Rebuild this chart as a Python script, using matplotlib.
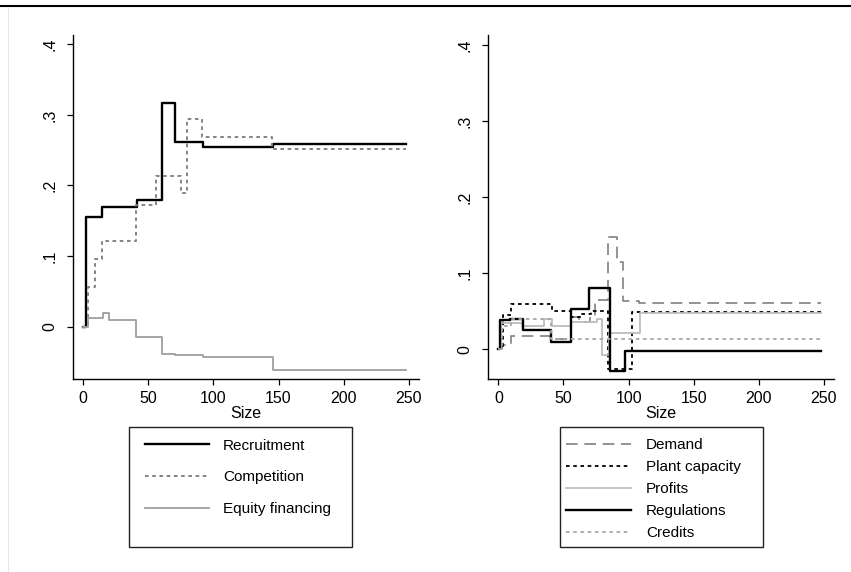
import matplotlib
matplotlib.use("Agg")
import matplotlib.pyplot as plt
from matplotlib.lines import Line2D
from matplotlib.patches import Rectangle

plt.rcParams['font.family'] = ['Liberation Sans', 'DejaVu Sans']

# Left panel: step values
rec_x = [0, 2.5, 14.5, 41, 60.5, 70.5, 92, 146, 248]
rec_y = [0, 0.156, 0.170, 0.180, 0.317, 0.261, 0.255, 0.258, 0.258]

comp_x = [0, 4, 9.5, 14.5, 40.5, 56, 75.5, 80, 91, 145, 248]
comp_y = [0, 0.056, 0.096, 0.121, 0.172, 0.213, 0.190, 0.294, 0.269, 0.251, 0.251]

eq_x = [0, 4, 15, 19.5, 40.5, 60.5, 70.5, 92, 146, 248]
eq_y = [0, 0.012, 0.019, 0.009, -0.015, -0.038, -0.040, -0.043, -0.061, -0.061]

# Right panel
dem_x = [0, 3, 9.5, 40, 56, 62, 70, 74, 84.5, 91, 95.5, 108, 248]
dem_y = [0, 0.006, 0.017, 0.013, 0.042, 0.036, 0.042, 0.065, 0.148, 0.115, 0.064, 0.061, 0.061]

plant_x = [0, 3.5, 9.5, 41.5, 56, 64, 71, 84.5, 102.5, 248]
plant_y = [0, 0.045, 0.059, 0.050, 0.043, 0.047, 0.051, -0.026, 0.049, 0.049]

prof_x = [0, 2, 18, 35, 41, 55.5, 76, 79.8, 85, 108.5, 248]
prof_y = [0, 0.035, 0.030, 0.040, 0.030, 0.036, 0.040, -0.008, 0.021, 0.048, 0.048]

reg_x = [0, 1.5, 9, 19, 40.5, 56, 69.5, 86, 97.5, 248]
reg_y = [0, 0.038, 0.040, 0.025, 0.010, 0.053, 0.080, -0.028, -0.002, -0.002]

cred_x = [0, 3, 10, 40.5, 248]
cred_y = [0, 0.030, 0.040, 0.013, 0.013]

xticks = [0, 50, 100, 150, 200, 250]
yticks = [0, 0.1, 0.2, 0.3, 0.4]
ylabels = ['0', '.1', '.2', '.3', '.4']

fig = plt.figure(figsize=(8.51, 5.72), dpi=100)
axL = fig.add_axes([0.0854, 0.3374, 0.4073, 0.6014])
axR = fig.add_axes([0.5734, 0.3374, 0.4070, 0.6014])

axL.plot(rec_x, rec_y, drawstyle='steps-post', color='black', lw=1.7, label='Recruitment')
axL.plot(comp_x, comp_y, drawstyle='steps-post', color='#7a7a7a', lw=1.3,
         dashes=(2, 2), label='Competition')
axL.plot(eq_x, eq_y, drawstyle='steps-post', color='#9e9e9e', lw=1.3, label='Equity financing')
axL.set_ylim(-0.074, 0.413)

axR.plot(dem_x, dem_y, drawstyle='steps-post', color='#808080', lw=1.2,
         dashes=(7, 4), label='Demand')
axR.plot(plant_x, plant_y, drawstyle='steps-post', color='black', lw=1.3,
         dashes=(2, 2), label='Plant capacity')
axR.plot(prof_x, prof_y, drawstyle='steps-post', color='#bdbdbd', lw=1.3, label='Profits')
axR.plot(reg_x, reg_y, drawstyle='steps-post', color='black', lw=1.7, label='Regulations')
axR.plot(cred_x, cred_y, drawstyle='steps-post', color='#a8a8a8', lw=1.3,
         dashes=(2, 2), label='Credits')
axR.set_ylim(-0.039, 0.413)

for ax in (axL, axR):
    ax.set_xlim(-8, 258)
    ax.set_xticks(xticks)
    ax.set_xticklabels([str(t) for t in xticks], fontsize=11.5)
    # y labels drawn rotated, right edge kept ~15 px left of the spine
    ax.set_yticks(yticks)
    ax.set_yticklabels([])
    for t, lab in zip(yticks, ylabels):
        ax.annotate(lab, xy=(0, t), xycoords=('axes fraction', 'data'),
                    xytext=(-11, 0), textcoords='offset points',
                    rotation=90, rotation_mode='anchor', ha='center', va='bottom',
                    fontsize=11.5, annotation_clip=False)
    ax.spines['top'].set_visible(False)
    ax.spines['right'].set_visible(False)
    ax.spines['left'].set_linewidth(1.0)
    ax.spines['bottom'].set_linewidth(1.0)
    ax.tick_params(direction='out', length=4.5, width=0.9)
    ax.tick_params(axis='x', pad=4)
    ax.set_xlabel('Size', fontsize=11.5, labelpad=0)

# legends below each panel, framed as in the original
axL.legend(loc='upper left', bbox_to_anchor=(145 / 851, 1 - 438.5 / 572),
           bbox_transform=fig.transFigure, frameon=False, fontsize=11,
           handlelength=4.2, handletextpad=0.9, labelspacing=1.16, borderpad=0,
           borderaxespad=0)
axR.legend(loc='upper left', bbox_to_anchor=(566 / 851, 1 - 438 / 572),
           bbox_transform=fig.transFigure, frameon=False, fontsize=11,
           handlelength=4.25, handletextpad=1.0, labelspacing=0.53, borderpad=0,
           borderaxespad=0)

fig.add_artist(Rectangle((129 / 851, 1 - 547 / 572), 223 / 851, 120 / 572,
                         transform=fig.transFigure, fill=False, ec='#222222', lw=1.0))
fig.add_artist(Rectangle((560 / 851, 1 - 547 / 572), 203 / 851, 120 / 572,
                         transform=fig.transFigure, fill=False, ec='#222222', lw=1.0))

# page rule at the top and faint frame edge at left
fig.add_artist(Line2D([0, 1], [1 - 6 / 572, 1 - 6 / 572], transform=fig.transFigure,
                      color='black', lw=1.5))
fig.add_artist(Line2D([8 / 851, 8 / 851], [0, 1 - 8 / 572], transform=fig.transFigure,
                      color='#e6e6e6', lw=0.8))

fig.savefig('out.png', dpi=100)
